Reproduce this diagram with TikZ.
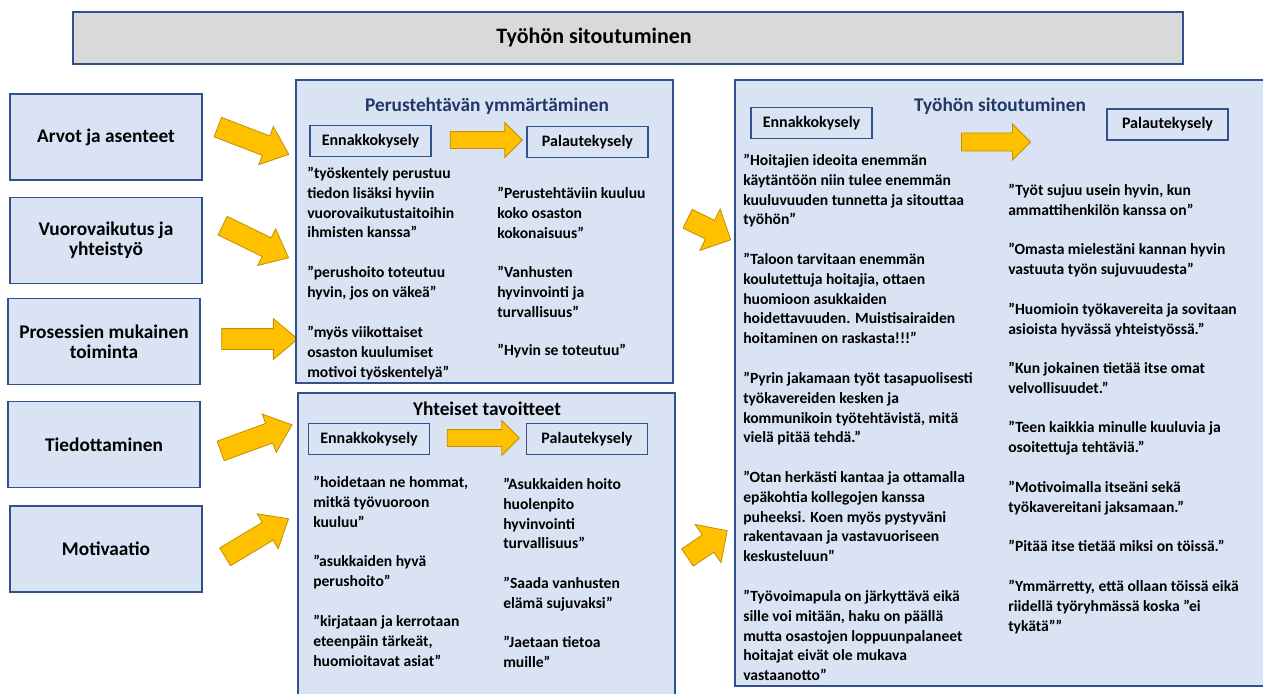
\documentclass[tikz,border=0pt]{standalone}
\usepackage{fontspec}
\setmainfont{Carlito}
\usetikzlibrary{shapes.arrows}
\definecolor{boxfill}{HTML}{DAE3F3}
\definecolor{boxline}{HTML}{2F528F}
\definecolor{headblue}{HTML}{203864}
\definecolor{arrowfill}{HTML}{FFC000}
\definecolor{arrowline}{HTML}{BF9000}
\definecolor{barfill}{HTML}{D9D9D9}
\tikzset{
  panel/.style={draw=boxline, fill=boxfill, line width=1.1pt, inner sep=0pt},
  sidebox/.style={panel, minimum width=144pt, minimum height=64.5pt, align=center, font=\fontsize{14.5}{15}\selectfont\bfseries},
  kysely/.style={panel, minimum width=90.75pt, minimum height=23.25pt, font=\fontsize{12}{14}\selectfont\bfseries},
  saying/.style={anchor=north west, inner sep=0pt, align=left, font=\fontsize{11.7}{14.8}\selectfont\bfseries},
  paneltitle/.style={inner sep=0pt, font=\fontsize{14.5}{16}\selectfont\bfseries},
  blockarrow/.style={single arrow, draw=arrowline, fill=arrowfill, line width=0.6pt, inner sep=0pt},
  bigarrow/.style={blockarrow, text height=7.5pt, text depth=7.5pt, single arrow head extend=7.5pt, single arrow tip angle=80, minimum height=57pt},
  midarrow/.style={blockarrow, text height=7.5pt, text depth=7.5pt, single arrow head extend=9.5pt, single arrow tip angle=90, minimum height=36pt},
  smallarrow/.style={blockarrow, text height=6pt, text depth=6pt, single arrow head extend=6.75pt, single arrow tip angle=90, minimum height=53pt}
}
\begin{document}
\begin{tikzpicture}[x=0.75pt,y=0.75pt,yscale=-1,xscale=1]
\useasboundingbox (0,0) rectangle (1263,693);
\node [draw=boxline, fill=barfill, line width=1.1pt, minimum width=832.5pt, minimum height=39pt] (bar) at (628,38) {};
\node [inner sep=0pt, font=\fontsize{16.5}{18}\selectfont\bfseries] (bartitle) at (594,38) {Työhön sitoutuminen};

\node [sidebox] (arvot) at (106,137) {Arvot ja asenteet};
\node [sidebox] (vuoro) at (106,240.5) {Vuorovaikutus ja\\yhteistyö};
\node [sidebox] (prosessi) at (104,341.5) {Prosessien mukainen\\toiminta};
\node [sidebox] (tiedotus) at (104,444.5) {Tiedottaminen};
\node [sidebox] (motivaatio) at (106,549) {Motivaatio};

\node [bigarrow, rotate=-21] (a1) at (247.5,138.5) {};
\node [bigarrow, rotate=-26, minimum height=55pt] (a2) at (250,239) {};
\node [bigarrow] (a3) at (253.5,339) {};
\node [bigarrow, rotate=20] (a4) at (250.5,440) {};
\node [bigarrow, rotate=31, minimum height=55.5pt] (a5) at (251.5,541) {};

\node [panel, minimum width=282.75pt, minimum height=227.25pt] (perus) at (484.5,231.5) {};
\node [panel, minimum width=282.75pt, minimum height=234pt] (yhteiset) at (486.5,549) {};
\node [panel, minimum width=405pt, minimum height=454.5pt] (sitout) at (1005,383) {};

\node [midarrow, rotate=-26] (m1) at (704.5,227) {};
\node [midarrow, rotate=34] (m2) at (703,547) {};

\node [paneltitle, text=headblue] (perustitle) at (487,106) {Perustehtävän ymmärtäminen};
\node [kysely] (penn) at (370.5,141) {Ennakkokysely};
\node [kysely] (ppal) at (587.5,142) {Palautekysely};
\node [smallarrow, minimum height=54pt] (pk) at (482,140) {};
\node [saying] (pa1) at (307,167) {”työskentely perustuu\\tiedon lisäksi hyviin\\vuorovaikutustaitoihin\\ihmisten kanssa”};
\node [saying] (pa2) at (307,266) {”perushoito toteutuu\\hyvin, jos on väkeä”};
\node [saying] (pa3) at (307,326) {”myös viikottaiset\\osaston kuulumiset\\motivoi työskentelyä”};
\node [saying] (pb1) at (497,187) {”Perustehtäviin kuuluu\\koko osaston\\kokonaisuus”};
\node [saying] (pb2) at (497,266) {”Vanhusten\\hyvinvointi ja\\turvallisuus”};
\node [saying] (pb3) at (497,344) {”Hyvin se toteutuu”};

\node [paneltitle] (yhttitle) at (487,409) {Yhteiset tavoitteet};
\node [kysely] (yenn) at (369,439) {Ennakkokysely};
\node [kysely] (ypal) at (587,439) {Palautekysely};
\node [smallarrow, minimum height=54pt] (yk) at (479,438) {};
\node [saying] (ya1) at (313,476) {”hoidetaan ne hommat,\\mitkä työvuoroon\\kuuluu”};
\node [saying] (ya2) at (313,555) {”asukkaiden hyvä\\perushoito”};
\node [saying] (ya3) at (313,615) {”kirjataan ja kerrotaan\\eteenpäin tärkeät,\\huomioitavat asiat”};
\node [saying] (yb1) at (503,478) {”Asukkaiden hoito\\huolenpito\\hyvinvointi\\turvallisuus”};
\node [saying] (yb2) at (503,577) {”Saada vanhusten\\elämä sujuvaksi”};
\node [saying] (yb3) at (503,636) {”Jaetaan tietoa\\muille”};

\node [paneltitle, text=headblue] (sittitle) at (1000,106) {Työhön sitoutuminen};
\node [kysely] (senn) at (811.5,123) {Ennakkokysely};
\node [kysely] (spal) at (1167.5,124.5) {Palautekysely};
\node [smallarrow, minimum height=51.75pt, text height=6.4pt, text depth=6.4pt] (sk) at (991.5,142) {};
\node [saying] (sa1) at (743,154) {”Hoitajien ideoita enemmän\\käytäntöön niin tulee enemmän\\kuuluvuuden tunnetta ja sitouttaa\\työhön”};
\node [saying] (sa2) at (743,253) {”Taloon tarvitaan enemmän\\koulutettuja hoitajia, ottaen\\huomioon asukkaiden\\hoidettavuuden. Muistisairaiden\\hoitaminen on raskasta!!!”};
\node [saying] (sa3) at (743,372) {”Pyrin jakamaan työt tasapuolisesti\\työkavereiden kesken ja\\kommunikoin työtehtävistä, mitä\\vielä pitää tehdä.”};
\node [saying] (sa4) at (743,471) {”Otan herkästi kantaa ja ottamalla\\epäkohtia kollegojen kanssa\\puheeksi. Koen myös pystyväni\\rakentavaan ja vastavuoriseen\\keskusteluun”};
\node [saying] (sa5) at (743,590) {”Työvoimapula on järkyttävä eikä\\sille voi mitään, haku on päällä\\mutta osastojen loppuunpalaneet\\hoitajat eivät ole mukava\\vastaanotto”};
\node [saying] (sb1) at (1008,184) {”Työt sujuu usein hyvin, kun\\ammattihenkilön kanssa on”};
\node [saying] (sb2) at (1008,243) {”Omasta mielestäni kannan hyvin\\vastuuta työn sujuvuudesta”};
\node [saying] (sb3) at (1008,303) {”Huomioin työkavereita ja sovitaan\\asioista hyvässä yhteistyössä.”};
\node [saying] (sb4) at (1008,362) {”Kun jokainen tietää itse omat\\velvollisuudet.”};
\node [saying] (sb5) at (1008,421) {”Teen kaikkia minulle kuuluvia ja\\osoitettuja tehtäviä.”};
\node [saying] (sb6) at (1008,481) {”Motivoimalla itseäni sekä\\työkavereitani jaksamaan.”};
\node [saying] (sb7) at (1008,540) {”Pitää itse tietää miksi on töissä.”};
\node [saying] (sb8) at (1008,580) {”Ymmärretty, että ollaan töissä eikä\\riidellä työryhmässä koska ”ei\\tykätä””};
\end{tikzpicture}
\end{document}
